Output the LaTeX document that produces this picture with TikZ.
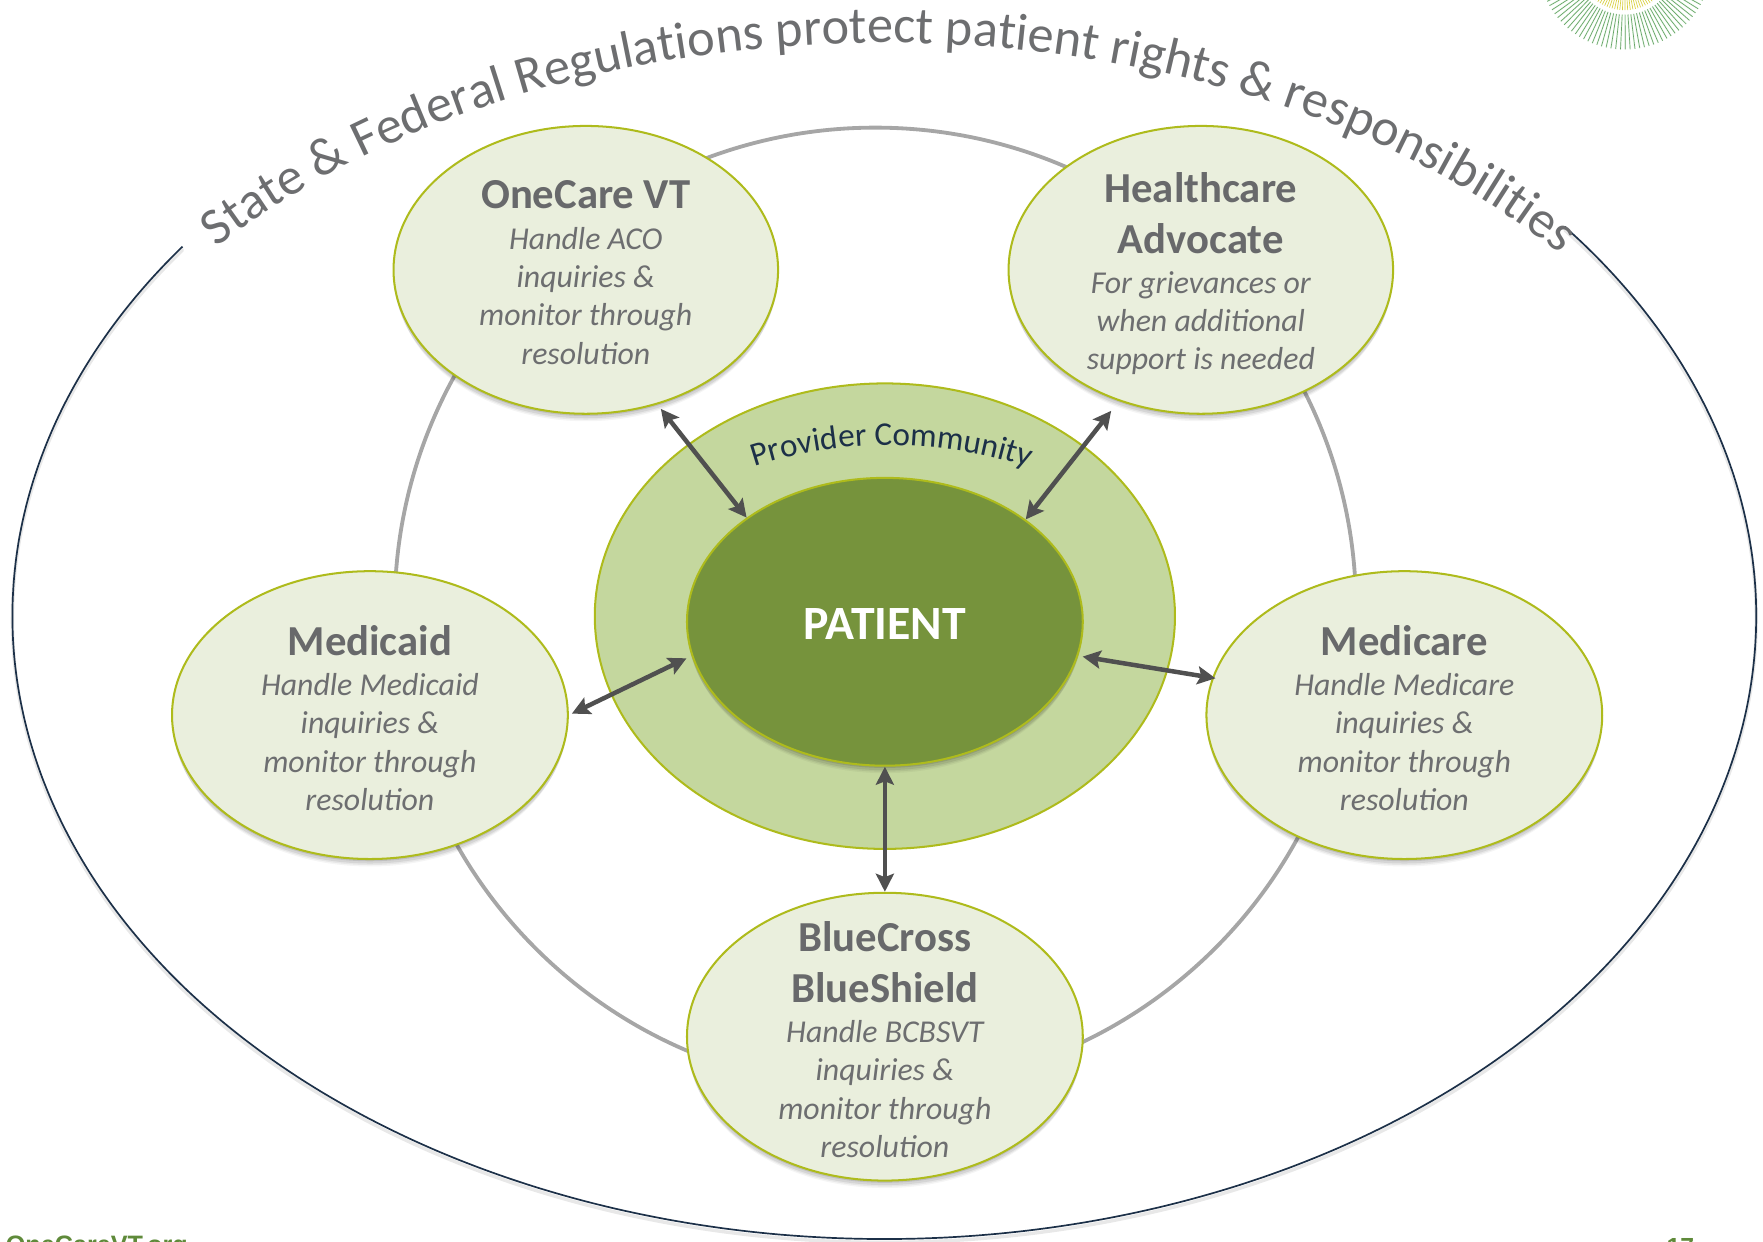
\documentclass[tikz,border=0pt]{standalone}
\usepackage{fontspec}
\setmainfont{Carlito}
\newfontfamily\footfont{Liberation Sans}
\usetikzlibrary{shapes.geometric,arrows.meta,shadows}
\definecolor{ttlc}{HTML}{68696B}
\definecolor{bodyc}{HTML}{6D6E70}
\definecolor{edgec}{HTML}{AEBB1C}
\definecolor{lightc}{HTML}{EAEFDD}
\definecolor{midc}{HTML}{C4D79E}
\definecolor{darkc}{HTML}{76933C}
\definecolor{navyc}{HTML}{1C3048}
\definecolor{ringc}{HTML}{A6A6A6}
\definecolor{arrowc}{HTML}{505050}
\definecolor{footc}{HTML}{5F8A3A}
\newcommand\ttl{\fontsize{38}{38}\selectfont\bfseries\color{ttlc}}
\newcommand\bdy{\fontsize{28.3}{28}\selectfont\mdseries\itshape\color{bodyc}}
\tikzset{
  softshadow/.style={
    general shadow={fill=black,opacity=.04,shadow xshift=0pt,shadow yshift=-8pt,shadow scale=.99},
    general shadow={fill=black,opacity=.06,shadow xshift=0pt,shadow yshift=-6pt,shadow scale=.995},
    general shadow={fill=black,opacity=.08,shadow xshift=0pt,shadow yshift=-4pt},
    general shadow={fill=black,opacity=.10,shadow xshift=0pt,shadow yshift=-2pt}},
  bubble/.style={ellipse,draw=edgec,line width=1.8pt,fill=lightc,inner sep=0pt,
    minimum width=#1,minimum height=256pt,softshadow},
  bubble/.default=352pt,
  bubbletext/.style={align=center,inner sep=0pt,font=\fontsize{28.3}{34}\selectfont},
  link/.style={draw=arrowc,line width=4pt,
    {Stealth[length=16pt,width=16pt,inset=3pt]}-{Stealth[length=16pt,width=16pt,inset=3pt]}},
}
\newbox\chbox
% #1 cx, #2 cy, #3 rx, #4 ry, #5 start parameter, #6 font, #7 letter-spacing, #8 list of characters
\newcommand\curvedtext[8]{%
  \xdef\curT{#5}%
  \foreach \ch in {#8}{%
    \setbox\chbox=\hbox{\pgfinterruptpicture#6\ch\endpgfinterruptpicture}%
    \edef\chwd{\the\wd\chbox}%
    \pgfmathsetmacro\chw{\chwd+#7pt}%
    \pgfmathsetmacro\spd{veclen(#3*sin(\curT),#4*cos(\curT))}%
    \pgfmathsetmacro\midT{\curT+0.5*\chw/\spd*57.29578}%
    \pgfmathsetmacro\rot{atan2(-#4*cos(\midT),-#3*sin(\midT))}%
    \pgfmathsetmacro\px{#1+#3*cos(\midT)}%
    \pgfmathsetmacro\py{#2+#4*sin(\midT)}%
    \node[anchor=base,inner sep=0pt,rotate=\rot] at (\px,\py) {#6\ch};%
    \pgfmathsetmacro\nxt{\curT+\chw/\spd*57.29578}%
    \xdef\curT{\nxt}%
  }%
}
\begin{document}
\begin{tikzpicture}[x=1pt,y=-1pt]
\useasboundingbox (0,0) rectangle (1568,1103.8);
% logo
\foreach \a in {0,3.2,...,180}{
  \draw[green!30!white!90!black,opacity=.2,line width=1.6pt] ({1445+46*cos(\a)},{-33+46*sin(\a)}) -- ({1445+77*cos(\a)},{-33+77*sin(\a)});
  \draw[green!40!black!60!white,line width=.6pt] ({1445+46*cos(\a)},{-33+46*sin(\a)}) -- ({1445+77*cos(\a)},{-33+77*sin(\a)});
  \draw[yellow!50!olive!70!white,line width=.6pt] ({1445+28*cos(\a)},{-33+28*sin(\a)}) -- ({1445+42*cos(\a)},{-33+42*sin(\a)});
}
% outer arc
\draw[black!15,line width=3pt,line cap=round,opacity=.6] plot[domain=216.4:-38.7,samples=140,smooth] ({786.5+775.5*cos(\x)},{551+554*sin(\x)});
\draw[navyc,line width=1.5pt] plot[domain=216.4:-38.7,samples=140,smooth] ({786.5+775.5*cos(\x)},{548+554*sin(\x)});
% arc text
\curvedtext{786.5}{548}{775}{510}{220}{\fontsize{46.5}{50}\selectfont\color{bodyc}}{0}{S,t,a,t,e,~,\&,~,F,e,d,e,r,a,l,~,R,e,g,u,l,a,t,i,o,n,s,~,p,r,o,t,e,c,t,~,p,a,t,i,e,n,t,~,r,i,g,h,t,s,~,\&,~,r,e,s,p,o,n,s,i,b,i,l,i,t,i,e,s}
% ring
\node[circle,draw=ringc,line width=3.4pt,minimum size=855pt,inner sep=0pt] (ring) at (778.5,541) {};
% centre
\node[ellipse,draw=edgec,line width=1.8pt,fill=midc,minimum width=516pt,minimum height=414pt,inner sep=0pt] (provider) at (787,548) {};
\curvedtext{791}{548}{250}{152}{241.3}{\fontsize{29.5}{32}\selectfont\color{navyc}}{0}{P,r,o,v,i,d,e,r,~,C,o,m,m,u,n,i,t,y}
\node[bubble,fill=darkc] (patient) at (787,553) {};
\node[text=white,font=\fontsize{42.5}{48}\selectfont\bfseries,inner sep=0pt] (patientT) at (787,555) {PATIENT};
% bubbles
\node[bubble=342pt] (onecare) at (521,240) {};
\node[bubbletext] (onecareT) at (521,242.5) {\ttl OneCare VT\\[2pt]\bdy Handle ACO\\\bdy inquiries \&\\\bdy monitor through\\\bdy resolution};
\node[bubble=342pt] (advocate) at (1068,240) {};
\node[bubbletext] (advocateT) at (1068,243.5) {\ttl Healthcare\\[11pt]\ttl Advocate\\[2pt]\bdy For grievances or\\\bdy when additional\\\bdy support is needed};
\node[bubble] (medicaid) at (329,636) {};
\node[bubbletext] (medicaidT) at (329,638.5) {\ttl Medicaid\\[2pt]\bdy Handle Medicaid\\\bdy inquiries \&\\\bdy monitor through\\\bdy resolution};
\node[bubble] (medicare) at (1249,636) {};
\node[bubbletext] (medicareT) at (1249,638.5) {\ttl Medicare\\[2pt]\bdy Handle Medicare\\\bdy inquiries \&\\\bdy monitor through\\\bdy resolution};
\node[bubble] (bcbs) at (787,922) {};
\node[bubbletext] (bcbsT) at (787,924.5) {\ttl BlueCross\\[11pt]\ttl BlueShield\\[2pt]\bdy Handle BCBSVT\\\bdy inquiries \&\\\bdy monitor through\\\bdy resolution};
% connectors
\draw[link,shorten <=5pt] (onecare.-62.5) -- (patient.143.4);
\draw[link,shorten <=11pt] (advocate.-122.2) -- (patient.36.1);
\draw[link,shorten <=3pt,shorten >=5pt] (medicaid.0) -- (patient.190.9);
\draw[link,shorten <=-3pt,shorten >=4pt] (medicare.169.3) -- (patient.-10.6);
\draw[link] (patient.south) -- (bcbs.north);
% footer
\node[anchor=base west,inner sep=0pt,text=footc,font=\footfont\fontsize{22.4}{26}\selectfont\bfseries] (site) at (5,1115) {OneCareVT.org};
\node[anchor=base west,inner sep=0pt,text=footc,font=\footfont\fontsize{22}{26}\selectfont\bfseries] (pageno) at (1482,1117) {17};
\end{tikzpicture}
\end{document}
